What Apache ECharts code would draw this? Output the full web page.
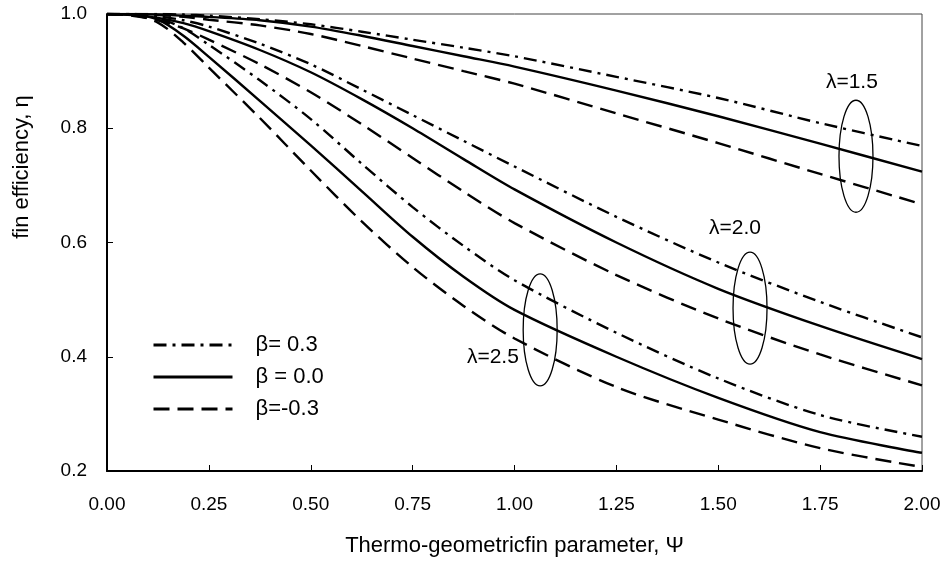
<!DOCTYPE html>
<html><head><meta charset="utf-8">
<script src="https://cdn.jsdelivr.net/npm/echarts@6/dist/echarts.min.js"></script>
<style>html,body{margin:0;padding:0;background:#fff}#c{width:944px;height:564px}</style>
</head><body><div id="c"></div>
<script>
// Thermo-geometric fin parameter Ψ
const psi = [0, 0.0625, 0.125, 0.1875, 0.25, 0.375, 0.5, 0.625, 0.75, 0.875, 1.0, 1.25, 1.5, 1.75, 2.0];
// λ = 1.5
const l15_bp03 = [1, 1.000, 1.000, 0.999, 0.997, 0.991, 0.982, 0.969, 0.955, 0.941, 0.926, 0.890, 0.853, 0.809, 0.769];
const l15_b00  = [1, 1.000, 0.999, 0.997, 0.995, 0.989, 0.978, 0.962, 0.944, 0.926, 0.908, 0.866, 0.821, 0.773, 0.724];
const l15_bm03 = [1, 0.999, 0.998, 0.995, 0.990, 0.980, 0.965, 0.944, 0.922, 0.900, 0.878, 0.826, 0.774, 0.720, 0.667];
// λ = 2.0
const l20_bp03 = [1, 0.999, 0.996, 0.989, 0.978, 0.948, 0.912, 0.868, 0.823, 0.778, 0.733, 0.645, 0.565, 0.496, 0.434];
const l20_b00  = [1, 0.998, 0.993, 0.984, 0.970, 0.937, 0.898, 0.851, 0.800, 0.746, 0.693, 0.600, 0.519, 0.454, 0.396];
const l20_bm03 = [1, 0.997, 0.989, 0.975, 0.955, 0.912, 0.863, 0.807, 0.748, 0.689, 0.634, 0.543, 0.467, 0.404, 0.350];
// λ = 2.5
const l25_bp03 = [1, 1.000, 0.993, 0.975, 0.946, 0.884, 0.816, 0.738, 0.662, 0.594, 0.534, 0.442, 0.362, 0.298, 0.260];
const l25_b00  = [1, 0.999, 0.990, 0.962, 0.925, 0.848, 0.770, 0.690, 0.610, 0.540, 0.482, 0.400, 0.328, 0.268, 0.232];
const l25_bm03 = [1, 0.998, 0.985, 0.950, 0.906, 0.818, 0.726, 0.637, 0.557, 0.489, 0.432, 0.347, 0.290, 0.240, 0.207];

const legendNames = ['β= 0.3', 'β = 0.0', 'β=-0.3'];
const xTicks = [0, 0.25, 0.5, 0.75, 1.0, 1.25, 1.5, 1.75, 2.0];
const yTicks = [0.2, 0.4, 0.6, 0.8, 1.0];
const groupLabels = ['λ=1.5', 'λ=2.0', 'λ=2.5'];
const ellipseCenters = [[1.838, 0.751], [1.578, 0.485], [1.063, 0.447]];
const labelAnchors = [[1.828, 0.881], [1.541, 0.625], [0.947, 0.399]];

const FONT = 'Liberation Sans, Arial, sans-serif';
const dashStyles = [[13, 6, 3, 6], null, [16, 8]];

function mk(name, vals, k) {
  return {
    name: name, type: 'line', smooth: 0.3, symbol: 'none', animation: false,
    data: psi.map((x, i) => [x, vals[i]]),
    lineStyle: { color: '#000', width: 2.4, type: dashStyles[k] === null ? 'solid' : dashStyles[k] },
    itemStyle: { color: '#000' },
    z: 3
  };
}
const groups = [[l15_bp03, l15_b00, l15_bm03], [l20_bp03, l20_b00, l20_bm03], [l25_bp03, l25_b00, l25_bm03]];
const series = [];
groups.forEach(g => g.forEach((v, k) => series.push(mk(legendNames[k], v, k))));

series.push({
  type: 'custom', coordinateSystem: 'cartesian2d', animation: false, silent: true, z: 4,
  data: ellipseCenters.map((c, i) => [c[0], c[1], labelAnchors[i][0], labelAnchors[i][1], i]),
  renderItem: function (params, api) {
    const c = api.coord([api.value(0), api.value(1)]);
    const t = api.coord([api.value(2), api.value(3)]);
    return {
      type: 'group', children: [
        { type: 'ellipse', shape: { cx: c[0], cy: c[1], rx: 17, ry: 56 },
          style: { fill: 'none', stroke: '#000', lineWidth: 1.3 } },
        { type: 'text', x: t[0], y: t[1],
          style: { text: groupLabels[api.value(4)], fill: '#000', font: '21px ' + FONT, align: 'center', verticalAlign: 'middle' } }
      ]
    };
  }
});

const chart = echarts.init(document.getElementById('c'), null, { renderer: 'canvas' });
chart.setOption({
  animation: false,
  backgroundColor: '#fff',
  grid: { left: 107, right: 22, top: 14, bottom: 93, show: true, borderColor: '#444', borderWidth: 1 },
  legend: {
    data: legendNames, orient: 'vertical', left: 147, top: 329,
    itemWidth: 79, itemHeight: 14, itemGap: 10, selectedMode: false,
    textStyle: { fontFamily: FONT, fontSize: 22, color: '#000', padding: [0, 0, 0, 18] },
    itemStyle: { color: 'rgba(0,0,0,0)', borderWidth: 0, opacity: 0 },
    lineStyle: { width: 3 }
  },
  xAxis: {
    type: 'value', min: 0, max: 2, interval: 0.25,
    name: 'Thermo-geometricfin parameter, Ψ', nameLocation: 'middle', nameGap: 64,
    nameTextStyle: { fontFamily: FONT, fontSize: 22, color: '#000' },
    axisLine: { lineStyle: { color: '#000', width: 2 } },
    axisTick: { inside: true, length: 6, lineStyle: { color: '#000', width: 1 } },
    axisLabel: { fontFamily: FONT, fontSize: 19, color: '#000', margin: 24,
      formatter: v => xTicks.includes(v) ? v.toFixed(2) : '' },
    splitLine: { show: false }
  },
  yAxis: {
    type: 'value', min: 0.2, max: 1.0, interval: 0.2,
    axisLine: { show: true, lineStyle: { color: '#000', width: 2 } },
    axisTick: { show: true, inside: true, length: 6, lineStyle: { color: '#000', width: 1 } },
    axisLabel: { fontFamily: FONT, fontSize: 19, color: '#000', margin: 20,
      formatter: v => yTicks.some(t => Math.abs(t - v) < 1e-9) ? v.toFixed(1) : '' },
    splitLine: { show: false }
  },
  graphic: [{
    type: 'text', x: 22, y: 167, rotation: Math.PI / 2,
    style: { text: 'fin efficiency, η', font: '22px ' + FONT, fill: '#000', align: 'center', verticalAlign: 'middle' }
  }],
  series: series
});
</script></body></html>
